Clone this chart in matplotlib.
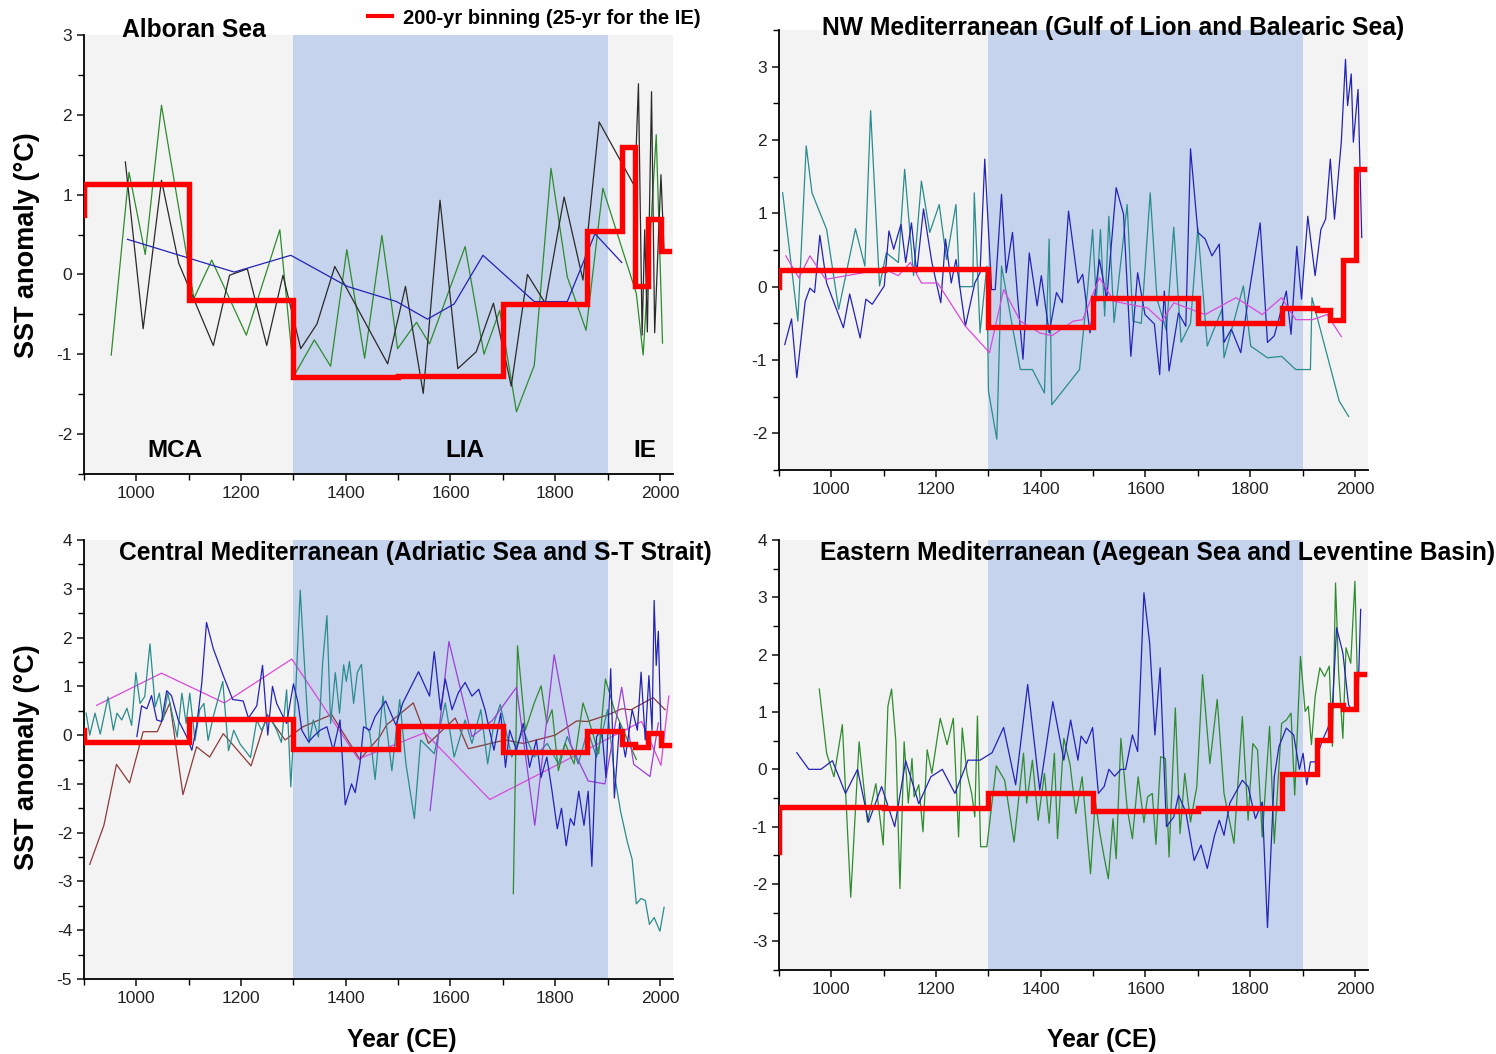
import matplotlib
matplotlib.use('Agg')
import matplotlib.pyplot as plt
from matplotlib.ticker import MultipleLocator
from matplotlib.lines import Line2D

plt.rcParams['font.family'] = ['Liberation Sans', 'DejaVu Sans']
plt.rcParams['axes.unicode_minus'] = False

# ---- binning (red steps) ----
bin_edges = [900, 900, 1100, 1300, 1500, 1700, 1860, 1928, 1953, 1978, 2003, 2018]
al_bins = [0.75, 1.13, -0.32, -1.28, -1.27, -0.37, 0.55, 1.60, -0.15, 0.70, 0.30]
nw_bins = [0.00, 0.23, 0.24, -0.55, -0.15, -0.49, -0.29, -0.32, -0.46, 0.37, 1.60]
cm_bins = [0.10, -0.14, 0.33, -0.28, 0.19, -0.35, 0.08, -0.18, -0.24, 0.05, -0.20]
em_bins = [-1.45, -0.65, -0.67, -0.41, -0.72, -0.67, -0.08, 0.52, 1.12, 1.05, 1.67]

# ---- Alboran Sea ----
al_green_yr = [952, 986, 1017, 1048, 1110, 1144, 1210, 1274, 1301, 1340, 1371, 1402, 1436, 1469, 1499,
               1535, 1560, 1628, 1664, 1694, 1726, 1760, 1792, 1823, 1859, 1891, 1955, 1968, 1993, 2005]
al_green = [-1.01, 1.28, 0.25, 2.12, -0.30, 0.18, -0.76, 0.56, -1.27, -0.82, -1.15, 0.31, -1.05, 0.49, -0.93,
            -0.60, -0.87, 0.35, -1.00, -0.45, -1.72, -1.14, 1.33, -0.03, -0.70, 1.08, -0.24, -1.01, 1.75, -0.86]
al_black_yr = [979, 1013, 1048, 1081, 1147, 1178, 1212, 1249, 1280, 1314, 1345, 1379, 1480, 1514, 1548,
               1580, 1614, 1649, 1682, 1716, 1747, 1781, 1817, 1853, 1884, 1952, 1959, 1966, 1971, 1976,
               1984, 1990, 2002, 2008]
al_black = [1.41, -0.68, 1.18, 0.14, -0.89, -0.01, 0.07, -0.89, -0.01, -0.93, -0.62, 0.10, -1.12, -0.15, -1.49,
            0.93, -1.18, -0.97, -0.36, -1.40, 0.00, -0.36, 0.97, -0.07, 1.91, 1.10, 2.39, -0.76, 0.56, -0.72,
            2.29, -0.73, 1.25, 0.27]
al_blue_yr = [983, 1187, 1295, 1403, 1497, 1556, 1607, 1662, 1760, 1823, 1876, 1927]
al_blue = [0.44, 0.03, 0.24, -0.15, -0.34, -0.56, -0.37, 0.24, -0.34, -0.34, 0.51, 0.15]

# ---- NW Mediterranean ----
nw_teal_yr = [907, 936, 952, 963, 991, 1014, 1046, 1064, 1075, 1092, 1105, 1128, 1140, 1157, 1172, 1188,
              1206, 1220, 1238, 1245, 1270, 1273, 1284, 1297, 1300, 1316, 1325, 1348, 1361, 1384, 1407,
              1416, 1421, 1474, 1489, 1499, 1506, 1514, 1522, 1530, 1540, 1565, 1576, 1592, 1609, 1622,
              1640, 1654, 1668, 1686, 1700, 1718, 1746, 1750, 1787, 1801, 1833, 1860, 1887, 1915, 1918,
              1970, 1988]
nw_teal = [1.28, -0.47, 1.92, 1.28, 0.78, -0.31, 0.79, 0.28, 2.40, 0.01, 0.46, 0.33, 1.60, 0.15, 1.44, 0.74,
           1.12, 0.37, 1.12, 0.00, 0.00, 1.28, -0.63, 0.28, -1.42, -2.08, 0.28, -0.63, -1.13, -1.13, -1.45,
           0.65, -1.61, -1.13, -0.08, 0.78, -0.20, 0.78, -0.40, 0.96, -0.49, 1.12, -0.47, -0.50, 1.28, -0.17,
           -0.60, 0.81, -0.76, -0.50, 0.80, -0.81, -0.31, -0.97, 0.01, -0.81, -0.97, -0.95, -1.13, -1.13, -0.15,
           -1.56, -1.77]
nw_blue_yr = [911, 924, 934, 950, 959, 968, 978, 991, 1023, 1035, 1055, 1066, 1078, 1101, 1110, 1119, 1133,
              1142, 1153, 1163, 1176, 1192, 1209, 1218, 1229, 1238, 1256, 1274, 1284, 1293, 1306, 1313, 1325,
              1334, 1346, 1355, 1366, 1378, 1393, 1401, 1416, 1430, 1441, 1453, 1471, 1480, 1494, 1512, 1526,
              1544, 1558, 1572, 1585, 1599, 1617, 1627, 1636, 1645, 1663, 1677, 1686, 1700, 1714, 1727, 1741,
              1750, 1764, 1782, 1796, 1819, 1833, 1846, 1869, 1878, 1889, 1898, 1910, 1924, 1935, 1944, 1953,
              1961, 1974, 1982, 1986, 1993, 1997, 2006, 2013]
nw_blue = [-0.79, -0.44, -1.24, -0.20, -0.02, -0.08, 0.70, 0.05, -0.56, -0.10, -0.70, -0.17, -0.24, 0.01, 0.76,
           0.51, 0.85, 0.33, 0.87, 0.19, 1.06, 0.33, -0.22, 0.65, 0.05, 0.37, -0.54, 0.05, 0.19, 1.74, -0.04,
           -0.04, 1.26, 0.19, 0.74, -0.08, -0.99, 0.46, -0.26, 0.15, -0.63, -0.08, -0.22, 1.03, 0.05, 0.17,
           -0.63, 0.37, -0.17, 1.35, 0.99, -0.95, 0.19, -0.38, -0.51, -1.20, -0.06, -1.15, -0.36, -0.54, 1.88,
           0.74, 0.65, 0.42, 0.58, -0.76, -0.58, -0.90, -0.17, 0.87, -0.76, -0.67, -0.06, -0.65, 0.55, -0.17,
           0.96, 0.15, 0.78, 0.92, 1.74, 0.92, 1.97, 3.10, 2.47, 2.90, 1.97, 2.69, 0.67]
nw_pink_yr = [913, 938, 959, 989, 1101, 1128, 1151, 1172, 1203, 1256, 1302, 1329, 1361, 1398, 1421, 1462,
              1480, 1512, 1540, 1604, 1631, 1654, 1714, 1773, 1823, 1860, 1887, 1919, 1947, 1974]
nw_pink = [0.42, 0.12, 0.42, 0.10, 0.24, 0.15, 0.33, 0.05, 0.05, -0.54, -0.90, -0.04, -0.47, -0.63, -0.67, -0.47,
           -0.45, 0.12, -0.20, -0.29, -0.47, -0.22, -0.38, -0.15, -0.38, -0.15, -0.45, -0.45, -0.38, -0.68]

# ---- Central Mediterranean ----
cm_teal_yr = [904, 911, 921, 931, 946, 956, 963, 972, 982, 991, 999, 1007, 1016, 1026, 1036, 1044, 1051, 1060,
              1069, 1078, 1087, 1095, 1102, 1112, 1121, 1129, 1137, 1147, 1165, 1176, 1186, 1198, 1211, 1218,
              1230, 1239, 1249, 1258, 1268, 1277, 1287, 1295, 1303, 1313, 1320, 1330, 1338, 1348, 1356, 1364,
              1371, 1380, 1388, 1396, 1401, 1407, 1415, 1422, 1430, 1439, 1446, 1456, 1471, 1488, 1503, 1515,
              1531, 1543, 1569, 1590, 1607, 1628, 1641, 1658, 1671, 1683, 1695, 1717, 1739, 1760, 1785, 1806,
              1823, 1844, 1862, 1879, 1900, 1913, 1925, 1938, 1947, 1955, 1964, 1972, 1980, 1989, 2000, 2008]
cm_teal = [0.45, 0.00, 0.45, 0.02, 0.78, 0.10, 0.45, 0.31, 0.55, 0.20, 1.28, 0.65, 0.79, 1.87, 0.58, 0.86, 0.31,
           0.86, 0.41, -0.04, 0.86, 0.24, 0.86, -0.11, 0.52, 0.65, -0.11, 0.38, 1.10, -0.32, 0.10, -0.18, -0.36,
           -0.46, 0.31, 0.10, 0.31, 0.31, 0.10, -0.15, 0.93, -1.06, 0.58, 2.97, 1.65, -0.16, 0.31, -0.04, 1.51,
           2.45, 0.24, 1.28, 0.45, 1.44, 1.10, 1.51, 0.65, 1.28, 1.45, 0.17, 0.04, -0.91, 0.80, -0.73, 0.73, -0.60,
           -1.71, -0.10, -0.38, 0.66, -0.45, 0.31, -0.17, 0.52, -0.59, 0.24, 0.63, -0.45, 0.10, -0.45, -0.17, -0.59,
           -0.03, -0.59, 0.10, -0.45, 0.52, -0.80, -1.57, -2.20, -2.55, -3.46, -3.35, -3.39, -3.88, -3.74, -4.02,
           -3.53]
cm_blue_yr = [1001, 1010, 1020, 1029, 1039, 1048, 1058, 1067, 1080, 1096, 1106, 1115, 1125, 1134, 1147, 1166,
              1184, 1204, 1214, 1230, 1241, 1251, 1260, 1268, 1277, 1287, 1300, 1309, 1316, 1329, 1338, 1351,
              1364, 1376, 1389, 1399, 1411, 1418, 1427, 1434, 1446, 1456, 1476, 1496, 1509, 1539, 1560, 1569,
              1581, 1590, 1603, 1615, 1628, 1641, 1654, 1666, 1683, 1696, 1705, 1713, 1726, 1739, 1751, 1764,
              1773, 1784, 1794, 1804, 1812, 1821, 1829, 1836, 1845, 1855, 1863, 1870, 1879, 1889, 1897, 1906,
              1913, 1923, 1934, 1947, 1957, 1964, 1972, 1979, 1985, 1989, 1993, 1997, 2002]
cm_blue = [-0.03, 0.60, 0.54, 0.81, 0.31, 0.28, 0.91, 0.81, 0.31, -0.03, -0.31, 0.17, 1.07, 2.31, 1.77, 1.22,
           0.73, 0.70, 0.35, 0.60, 1.43, 0.00, 1.00, 0.65, 0.45, 0.24, 1.05, 0.65, 0.10, -0.14, -0.03, 0.10,
           0.17, -0.31, 0.31, -1.43, -1.00, -1.18, -0.59, 0.17, 0.10, 0.38, 0.70, 0.20, 0.66, 1.30, 0.80, 1.71,
           0.52, 1.15, 0.52, 0.87, 1.08, 0.80, 0.94, 0.52, -0.31, 0.45, -0.66, 0.10, -0.31, 0.24, -0.66, -0.10,
           -0.87, -0.45, -1.15, -1.92, -1.50, -2.27, -1.71, -1.85, -1.15, -1.85, -1.15, -2.69, -0.03, 0.10, -0.87,
           1.36, -1.29, 0.24, -0.45, 0.52, 0.10, 1.29, -0.10, 1.22, 0.10, 2.76, 1.43, 2.13, -0.03]
cm_brown_yr = [911, 938, 962, 987, 1013, 1040, 1064, 1089, 1115, 1140, 1166, 1219, 1250, 1284, 1318, 1373,
               1427, 1465, 1478, 1529, 1558, 1609, 1634, 1704, 1739, 1800, 1841, 1862, 1902, 1927, 1945, 1987,
               2010]
cm_brown = [-2.65, -1.85, -0.60, -0.98, 0.07, 0.07, 0.66, -1.22, -0.24, -0.45, 0.03, -0.63, 0.42, -0.10, 0.17,
            0.42, -0.50, -0.03, 0.21, 0.66, -0.17, 0.35, -0.28, -0.10, -0.17, 0.00, 0.29, 0.28, 0.42, 0.54, 0.52,
            0.77, 0.52]
cm_pink_yr = [924, 1048, 1168, 1297, 1424, 1551, 1675, 1965, 2002, 2017]
cm_pink = [0.61, 1.27, 0.66, 1.56, -0.49, 0.05, -1.32, 0.28, -0.62, 0.80]
cm_purple_yr = [1561, 1597, 1641, 1680, 1726, 1761, 1798, 1830, 1863, 1895, 1927, 1950, 1981, 1997]
cm_purple = [-1.55, 1.92, -0.03, 0.30, 0.98, -1.85, 1.65, -0.20, -0.94, -1.00, 0.98, -0.60, -0.85, 0.25]
cm_green_yr = [1720, 1728, 1743, 1760, 1773, 1784, 1794, 1806, 1819, 1836, 1853, 1866, 1883, 1896, 1913, 1930,
               1955]
cm_green = [-3.25, 1.83, 0.10, 0.66, 1.01, 0.24, 0.52, -0.73, -0.17, -0.59, 0.66, 0.24, -0.38, 1.15, 0.52, 0.10,
            -0.50]

# ---- Eastern Mediterranean ----
em_blue_yr = [934, 957, 980, 1002, 1027, 1050, 1071, 1096, 1121, 1142, 1167, 1190, 1212, 1236, 1261, 1284,
              1307, 1329, 1352, 1375, 1398, 1423, 1444, 1457, 1471, 1477, 1487, 1499, 1510, 1521, 1530, 1541,
              1553, 1562, 1575, 1585, 1597, 1608, 1618, 1628, 1640, 1654, 1663, 1677, 1693, 1706, 1718, 1732,
              1741, 1750, 1761, 1785, 1796, 1810, 1823, 1833, 1846, 1855, 1869, 1883, 1894, 1901, 1908, 1915,
              1924, 1938, 1947, 1956, 1965, 1977, 1988, 1997, 2006, 2011]
em_blue = [0.29, 0.00, 0.00, 0.15, -0.42, 0.00, -0.92, -0.30, -1.00, 0.15, -0.60, -0.13, 0.00, -0.42, 0.16, 0.16,
           0.29, 0.73, -0.27, 1.48, -0.36, 1.18, 0.16, 0.86, 0.16, 0.58, 0.45, 0.73, -0.42, -0.30, 0.00, -0.12,
           0.00, 0.00, 0.60, 0.31, 3.08, 2.20, 0.60, 1.77, -1.00, -0.83, -0.45, -0.74, -1.59, -1.32, -1.73, -1.15,
           -0.89, -1.15, -0.59, -0.19, -0.30, -0.86, -0.57, -2.76, -0.13, 0.40, 0.72, 0.60, 0.00, 0.28, -0.27,
           0.13, 0.13, 0.51, 0.69, 0.92, 2.47, 2.03, 1.12, 1.01, 1.27, 2.79]
em_green_yr = [977, 991, 1005, 1021, 1037, 1053, 1069, 1085, 1099, 1108, 1115, 1123, 1131, 1139, 1147, 1154,
               1158, 1167, 1175, 1183, 1192, 1208, 1221, 1233, 1243, 1250, 1259, 1268, 1274, 1279, 1285, 1297,
               1315, 1331, 1349, 1367, 1373, 1384, 1395, 1407, 1416, 1426, 1432, 1444, 1456, 1467, 1479, 1495,
               1504, 1513, 1521, 1529, 1538, 1544, 1553, 1565, 1575, 1586, 1597, 1604, 1613, 1620, 1629, 1638,
               1645, 1657, 1666, 1675, 1686, 1698, 1709, 1723, 1737, 1750, 1769, 1785, 1796, 1805, 1814, 1823,
               1837, 1846, 1860, 1869, 1878, 1885, 1896, 1905, 1911, 1917, 1924, 1933, 1942, 1951, 1957, 1963,
               1969, 1977, 1983, 1992, 2000, 2006]
em_green = [1.40, 0.28, -0.13, 0.78, -2.23, 0.48, -0.92, -0.25, -1.32, 1.10, 1.40, 0.51, -2.08, 0.48, -0.59, 0.19,
            -0.48, -0.27, -1.09, 0.34, -0.07, 0.89, 0.43, 0.89, -1.18, 0.72, -0.07, -0.42, -0.83, 0.93, -1.35, -1.35,
            0.06, -0.19, -1.27, 0.28, -0.59, 0.16, -0.89, -0.07, -0.94, 0.28, -1.21, 0.54, 0.08, -0.77, -0.13, -1.82,
            -0.54, -1.12, -1.53, -1.91, -0.86, -1.56, 0.54, -0.68, -1.21, -0.13, -0.93, -0.48, -0.42, -1.31, 0.22,
            0.19, -1.53, 1.07, -1.12, -0.07, -0.92, -0.30, 1.65, 0.10, 1.22, -0.42, -1.29, 0.92, -0.89, 0.45, 0.34,
            -1.18, 0.75, -1.29, 0.80, 0.86, 0.98, -0.45, 1.97, 1.01, 1.10, 0.43, 1.27, 1.77, 1.62, 1.80, 0.40, 3.25,
            1.68, 0.54, 2.12, 1.85, 3.28, 1.10]

C_GREEN = '#2e8b2e'
C_BLACK = '#2a2a2a'
C_BLUE = '#2323b8'
C_TEAL = '#2a8c8c'
C_PINK = '#d94ad9'
C_PURPLE = '#9b3fd6'
C_BROWN = '#8b3a3a'
C_RED = '#ff0000'

fig = plt.figure(figsize=(14.96, 10.54), dpi=100)
W, H = 1496, 1054


def make_ax(left, top, right, bottom, ylim):
    ax = fig.add_axes([left / W, 1 - bottom / H, (right - left) / W, (bottom - top) / H])
    ax.set_facecolor('#f3f3f3')
    ax.axvspan(1300, 1900, color='#c5d3ec', lw=0, zorder=0)
    ax.set_xlim(900, 2025)
    ax.set_ylim(*ylim)
    for s in ['top', 'right']:
        ax.spines[s].set_visible(False)
    for s in ['left', 'bottom']:
        ax.spines[s].set_linewidth(1.3)
    ax.xaxis.set_major_locator(MultipleLocator(200))
    ax.xaxis.set_minor_locator(MultipleLocator(100))
    ax.yaxis.set_major_locator(MultipleLocator(1))
    ax.yaxis.set_minor_locator(MultipleLocator(0.5))
    ax.tick_params(which='major', direction='out', length=5, width=1.2, labelsize=12.5, colors='#222222')
    ax.tick_params(which='minor', direction='out', length=4, width=1.0)
    return ax


def draw_bins(ax, vals):
    ax.step(bin_edges, vals + [vals[-1]], where='post', color=C_RED, lw=3.9, zorder=5,
            solid_joinstyle='miter')


ax1 = make_ax(84, 35, 673, 474, (-2.5, 3))
ax2 = make_ax(779, 30, 1368, 470, (-2.5, 3.5))
ax3 = make_ax(84, 540, 673, 979, (-5, 4))
ax4 = make_ax(779, 540, 1368, 970, (-3.5, 4))

lw = 0.9
ax1.plot(al_green_yr, al_green, color=C_GREEN, lw=lw)
ax1.plot(al_black_yr, al_black, color=C_BLACK, lw=lw)
ax1.plot(al_blue_yr, al_blue, color=C_BLUE, lw=lw)
draw_bins(ax1, al_bins)

ax2.plot(nw_teal_yr, nw_teal, color=C_TEAL, lw=lw)
ax2.plot(nw_blue_yr, nw_blue, color=C_BLUE, lw=lw)
ax2.plot(nw_pink_yr, nw_pink, color=C_PINK, lw=lw)
draw_bins(ax2, nw_bins)

ax3.plot(cm_brown_yr, cm_brown, color=C_BROWN, lw=lw)
ax3.plot(cm_pink_yr, cm_pink, color=C_PINK, lw=lw)
ax3.plot(cm_teal_yr, cm_teal, color=C_TEAL, lw=lw)
ax3.plot(cm_green_yr, cm_green, color=C_GREEN, lw=lw)
ax3.plot(cm_purple_yr, cm_purple, color=C_PURPLE, lw=lw)
ax3.plot(cm_blue_yr, cm_blue, color=C_BLUE, lw=lw)
draw_bins(ax3, cm_bins)

ax4.plot(em_green_yr, em_green, color=C_GREEN, lw=lw)
ax4.plot(em_blue_yr, em_blue, color=C_BLUE, lw=lw)
draw_bins(ax4, em_bins)

tkw = dict(fontsize=17.7, fontweight='bold', va='center', ha='left')
ax1.text(0.065, 1.012, 'Alboran Sea', transform=ax1.transAxes, **tkw)
ax2.text(0.073, 1.004, 'NW Mediterranean (Gulf of Lion and Balearic Sea)', transform=ax2.transAxes, **tkw)
ax3.text(0.059, 0.971, 'Central Mediterranean (Adriatic Sea and S-T Strait)', transform=ax3.transAxes, **tkw)
ax4.text(0.070, 0.970, 'Eastern Mediterranean (Aegean Sea and Leventine Basin)', transform=ax4.transAxes, **tkw)

for lab, yr in [('MCA', 1074), ('LIA', 1628), ('IE', 1971)]:
    ax1.text(yr, -2.2, lab, fontsize=17.5, fontweight='bold', ha='center', va='center')

fig.text(27 / W, 1 - 245 / H, 'SST anomaly (°C)', rotation=90, fontsize=19.5, fontweight='bold',
         ha='center', va='center')
fig.text(27 / W, 1 - 757 / H, 'SST anomaly (°C)', rotation=90, fontsize=19.5, fontweight='bold',
         ha='center', va='center')
fig.text(402 / W, 1 - 1040 / H, 'Year (CE)', fontsize=17.7, fontweight='bold', ha='center', va='center')
fig.text(1102 / W, 1 - 1040 / H, 'Year (CE)', fontsize=17.7, fontweight='bold', ha='center', va='center')

handle = Line2D([], [], color=C_RED, lw=3)
fig.legend(handles=[handle], labels=['200-yr binning (25-yr for the IE)'], loc='center left',
           bbox_to_anchor=(350 / W, 1 - 18 / H), frameon=False, handlelength=1.2, handletextpad=0.55,
           prop={'size': 14.5, 'weight': 'bold'})

fig.savefig('out.png', dpi=100)
